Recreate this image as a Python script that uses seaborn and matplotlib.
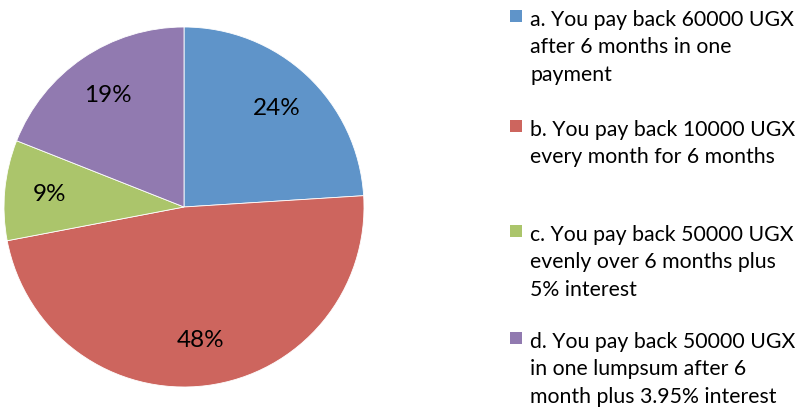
import matplotlib
matplotlib.use("Agg")
import matplotlib.pyplot as plt
import seaborn as sns
from matplotlib.patches import Rectangle

sns.set_theme(style="white")
plt.rcParams["font.family"] = ["Lato", "DejaVu Sans"]

# Share of answers per repayment option
options = [
    "a. You pay back 60000 UGX\nafter 6 months in one\npayment",
    "b. You pay back 10000 UGX\nevery month for 6 months",
    "c. You pay back 50000 UGX\nevenly over 6 months plus\n5% interest",
    "d. You pay back 50000 UGX\nin one lumpsum after 6\nmonth plus 3.95% interest",
]
shares = [24, 48, 9, 19]
colors = ["#5F94C9", "#CD655E", "#ABC56B", "#917AB0"]

W, H = 800, 412
fig = plt.figure(figsize=(W / 100, H / 100), dpi=100)
fig.patch.set_facecolor("white")

# Pie: centre (184, 207) px, radius 180 px
cx, cy, r = 184, 207, 180
ax = fig.add_axes([(cx - r) / W, (H - cy - r) / H, 2 * r / W, 2 * r / H])
wedges, texts, autotexts = ax.pie(
    shares,
    colors=colors,
    startangle=90,
    counterclock=False,
    autopct="%d%%",
    pctdistance=0.75,
    wedgeprops=dict(edgecolor="white", linewidth=0.6),
    textprops=dict(fontsize=17.5, color="black"),
)
ax.set_xlim(-1, 1)
ax.set_ylim(-1, 1)
ax.set_aspect("equal")
ax.axis("off")

# Legend on the right: a colour square and wrapped label per option
first_baselines = [26, 136, 241, 348]
line_step = 27.3
for label, color, base in zip(options, colors, first_baselines):
    fig.patches.append(Rectangle((510 / W, 1 - (base - 4) / H), 12 / W, 12 / H,
                                 transform=fig.transFigure, facecolor=color,
                                 edgecolor="none"))
    for i, line in enumerate(label.split("\n")):
        fig.text(530 / W, 1 - (base + i * line_step) / H, line,
                 ha="left", va="baseline", fontsize=15.3, color="black")

fig.savefig("out.png", dpi=100, facecolor="white")
